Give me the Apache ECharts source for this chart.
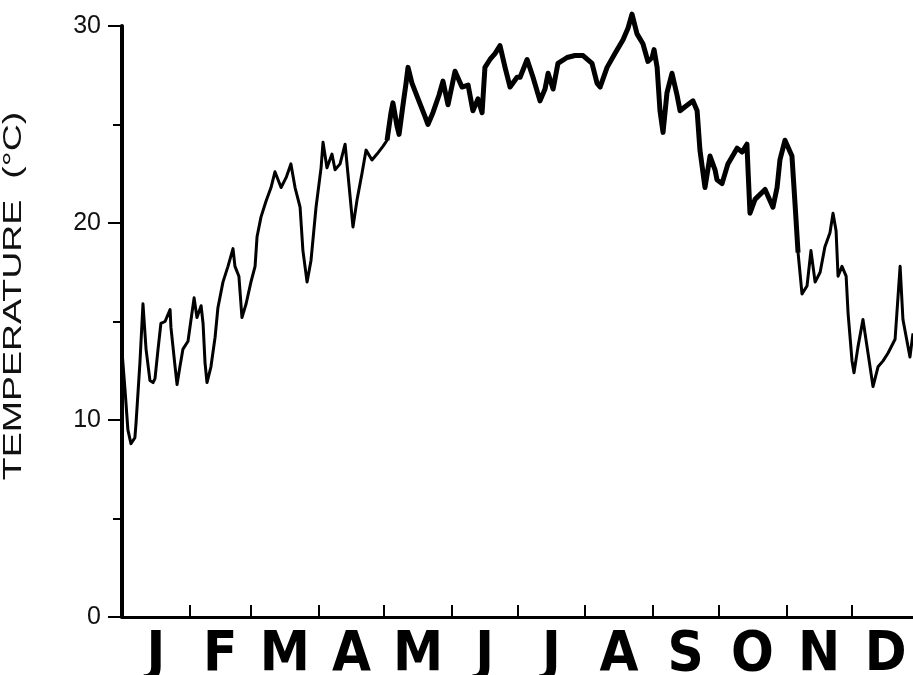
<!DOCTYPE html>
<html>
<head>
<meta charset="utf-8">
<script src="https://cdn.jsdelivr.net/npm/echarts@6/dist/echarts.min.js"></script>
<style>
  html, body { margin: 0; padding: 0; background: #fff; }
  #chart { width: 913px; height: 675px; }
</style>
</head>
<body>
<div id="chart"></div>
<script>
// Day of year (0 = 1 January) and water temperature in °C
var days = [
  0, 1.4, 2.7, 4.1, 5.9, 6.4, 8.2, 9.6, 11.0, 12.8, 14.2, 15.1, 16.5, 17.8, 19.7,
  22.0, 22.4, 24.3, 25.2, 26.5, 27.9, 30.2, 31.6, 33.0, 34.3, 36.2, 37.1, 38.0, 38.9,
  40.7, 42.6, 43.9, 46.2, 48.5, 50.8, 51.7, 53.5, 54.9, 56.8, 59.0, 60.9, 61.8, 63.6,
  65.9, 68.2, 70.0, 72.8, 75.1, 77.3, 79.2, 81.5, 82.8, 84.7, 86.5, 88.8, 91.1, 92.0,
  93.8, 96.1, 97.5, 99.8, 102.1, 103.4, 105.7, 107.6, 109.8, 111.7, 114.4, 116.7,
  119.5, 121.3, 123.1, 124.0, 125.9, 126.8, 128.6, 130.0, 130.9, 132.7, 135.5, 138.7,
  140.0, 142.3, 145.1, 146.9, 149.2, 152.4, 155.6, 158.4, 160.6, 162.9, 164.8, 166.1,
  168.4, 170.7, 173.0, 175.3, 177.6, 180.8, 182.2, 185.4, 188.1, 191.3, 193.6, 195.0,
  197.3, 199.5, 203.7, 207.3, 211.0, 215.1, 217.4, 218.8, 222.0, 225.6, 229.3, 231.6,
  233.4, 235.7, 238.4, 240.7, 242.6, 243.5, 244.9, 246.2, 247.6, 249.4, 251.7, 254.0,
  255.4, 257.7, 261.3, 263.2, 264.5, 266.8, 269.1, 271.4, 272.3, 274.6, 277.3, 281.5,
  283.8, 286.0, 286.5, 287.4, 289.7, 294.3, 297.9, 299.8, 301.1, 303.4, 306.6, 308.0,
  309.4, 311.2, 313.5, 315.3, 317.2, 319.5, 321.7, 324.0, 325.4, 326.8, 327.7, 329.5,
  331.4, 332.3, 334.1, 335.0, 336.8, 339.1, 341.4, 343.7, 346.0, 348.3, 350.6, 353.8,
  356.1, 357.4, 360.6, 362.0
];
var temps = [
  13.5, 11.5, 9.5, 8.8, 9.1, 9.8, 12.9, 15.9, 13.6, 12.0, 11.9, 12.1, 13.6, 14.9, 15.0,
  15.6, 14.7, 12.7, 11.8, 12.7, 13.6, 14.0, 15.1, 16.2, 15.2, 15.8, 14.9, 12.9, 11.9,
  12.7, 14.2, 15.7, 17.0, 17.8, 18.7, 17.8, 17.3, 15.2, 15.9, 17.0, 17.8, 19.3, 20.3,
  21.1, 21.8, 22.6, 21.8, 22.3, 23.0, 21.8, 20.8, 18.6, 17.0, 18.1, 20.8, 22.8, 24.1,
  22.8, 23.5, 22.7, 23.0, 24.0, 22.5, 19.8, 21.2, 22.5, 23.7, 23.2, 23.5,
  23.9, 24.2, 25.6, 26.1, 24.9, 24.5, 26.0, 27.1, 27.9, 27.1, 26.3, 25.4,
  25.0, 25.6, 26.5, 27.2, 26.0, 27.7, 26.9, 27.0, 25.7, 26.3, 25.6, 27.9,
  28.3, 28.6, 29.0, 27.9, 26.9, 27.4, 27.4, 28.3, 27.4, 26.2, 26.8, 27.6,
  26.8, 28.1, 28.4, 28.5, 28.5, 28.1, 27.1, 26.9, 27.9, 28.6, 29.3, 29.9,
  30.6, 29.6, 29.1, 28.2, 28.4, 28.8, 27.9, 25.7, 24.6, 26.6, 27.6, 26.5,
  25.7, 25.9, 26.2, 25.7, 23.7, 21.8, 23.4, 22.7, 22.2, 22.0, 23.0, 23.8,
  23.6, 24.0, 22.7, 20.5, 21.2, 21.7, 20.8, 21.8, 23.2, 24.2, 23.4, 21.0,
  18.5, 16.4, 16.8, 18.6, 17.0, 17.5, 18.8, 19.5, 20.5, 19.6, 17.3, 17.8,
  17.3, 15.4, 13.0, 12.4, 13.7, 15.1, 13.4, 11.7, 12.7, 13.0, 13.4, 14.1,
  17.8, 15.1, 13.2, 14.4
];

// Month boundaries (day of year) and month initials at mid-month
var monthStarts = [0, 31, 59, 90, 120, 151, 181, 212, 243, 273, 304, 334];
var monthMids = [15.5, 45, 74.5, 105, 135.5, 166, 196.5, 227.5, 258, 288.5, 319, 349.5];
var monthLetters = ['J', 'F', 'M', 'A', 'M', 'J', 'J', 'A', 'S', 'O', 'N', 'D'];

// Temperature axis
var yMin = 0, yMax = 30, yStep = 10;
var yTitle = 'TEMPERATURE  (°C)';

// Warm season (May–October), where the daily swing widens the trace
var warmFrom = 121, warmTo = 309.5;

var seriesData = days.map(function (d, i) { return [d, temps[i]]; });
var warmData = seriesData.filter(function (p) { return p[0] >= warmFrom && p[0] <= warmTo; });

var chart = echarts.init(document.getElementById('chart'), null, { renderer: 'canvas' });

chart.setOption({
  backgroundColor: '#ffffff',
  animation: false,
  grid: {
    left: 122, right: 0, top: 26, bottom: 58,
    containLabel: false,
    outerBoundsMode: 'none'
  },
  xAxis: {
    type: 'value',
    min: 0,
    max: 362,
    axisLine: { show: true, onZero: false, lineStyle: { color: '#000', width: 3 } },
    axisTick: {
      show: true,
      inside: true,
      length: 12,
      customValues: monthStarts,
      lineStyle: { color: '#000', width: 2 }
    },
    axisLabel: {
      show: true,
      customValues: monthMids,
      formatter: function (v) {
        var k = monthMids.indexOf(v);
        return k >= 0 ? monthLetters[k] : '';
      },
      color: '#000',
      fontFamily: "'Liberation Sans Narrow', 'DejaVu Sans Condensed', sans-serif",
      fontWeight: 'bold',
      fontSize: 56,
      lineHeight: 56,
      margin: 10
    },
    splitLine: { show: false }
  },
  yAxis: {
    type: 'value',
    min: yMin,
    max: yMax,
    interval: yStep,
    axisLine: { show: true, lineStyle: { color: '#000', width: 4 } },
    axisTick: { show: true, length: 14, lineStyle: { color: '#000', width: 2 } },
    minorTick: { show: true, splitNumber: 2, length: 9, lineStyle: { color: '#000', width: 2 } },
    axisLabel: {
      color: '#111',
      fontFamily: "'Liberation Sans', Arial, sans-serif",
      fontSize: 25,
      margin: 21
    },
    splitLine: { show: false },
    minorSplitLine: { show: false }
  },
  graphic: [{
    type: 'text',
    x: 14,
    y: 296,
    rotation: Math.PI / 2,
    scaleX: 1.5,
    style: {
      text: yTitle,
      fill: '#111',
      font: "25px 'Liberation Sans', Arial, sans-serif",
      align: 'center',
      verticalAlign: 'middle'
    }
  }],
  series: [{
    type: 'line',
    data: seriesData,
    showSymbol: false,
    smooth: false,
    lineStyle: { color: '#000', width: 3, join: 'round' },
    clip: false
  }, {
    type: 'line',
    data: warmData,
    showSymbol: false,
    smooth: false,
    lineStyle: { color: '#000', width: 5, join: 'round' },
    clip: false,
    silent: true
  }]
});
</script>
</body>
</html>
